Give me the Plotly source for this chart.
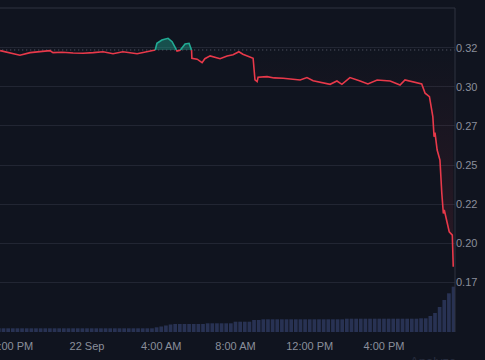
import numpy as np
import pandas as pd
import plotly.graph_objects as go

# ---------------- data ----------------
TIMES = [
    "2023-09-21 19:19", "2023-09-21 19:51", "2023-09-21 20:23", "2023-09-21 20:56",
    "2023-09-21 22:00", "2023-09-21 22:10", "2023-09-21 22:40", "2023-09-21 23:15",
    "2023-09-21 23:47",
    "2023-09-22 00:20", "2023-09-22 00:52", "2023-09-22 01:24", "2023-09-22 01:56",
    "2023-09-22 02:42", "2023-09-22 03:14", "2023-09-22 03:40", "2023-09-22 03:46",
    "2023-09-22 04:02", "2023-09-22 04:22", "2023-09-22 04:35", "2023-09-22 04:51",
    "2023-09-22 05:01", "2023-09-22 05:17", "2023-09-22 05:30", "2023-09-22 05:38",
    "2023-09-22 05:39", "2023-09-22 05:56", "2023-09-22 06:12", "2023-09-22 06:21",
    "2023-09-22 06:38", "2023-09-22 07:10", "2023-09-22 07:33", "2023-09-22 07:52",
    "2023-09-22 08:11", "2023-09-22 08:24", "2023-09-22 08:57", "2023-09-22 09:03",
    "2023-09-22 09:10", "2023-09-22 09:13", "2023-09-22 09:42", "2023-09-22 10:05",
    "2023-09-22 10:34", "2023-09-22 11:29", "2023-09-22 11:51", "2023-09-22 12:11",
    "2023-09-22 13:06", "2023-09-22 13:28", "2023-09-22 13:44", "2023-09-22 14:10",
    "2023-09-22 14:43", "2023-09-22 15:08", "2023-09-22 15:38", "2023-09-22 16:20",
    "2023-09-22 16:52", "2023-09-22 17:08", "2023-09-22 18:02", "2023-09-22 18:13",
    "2023-09-22 18:27", "2023-09-22 18:38", "2023-09-22 18:42", "2023-09-22 18:45",
    "2023-09-22 18:52", "2023-09-22 19:01", "2023-09-22 19:07", "2023-09-22 19:12",
    "2023-09-22 19:15", "2023-09-22 19:23", "2023-09-22 19:31", "2023-09-22 19:41",
    "2023-09-22 19:44",
]
PRICES = [
    0.3233, 0.3216, 0.3203, 0.3220,
    0.3233, 0.3220, 0.3222, 0.3218,
    0.3216,
    0.3220, 0.3226, 0.3213, 0.3226,
    0.3213, 0.3224, 0.3233, 0.3280,
    0.3301, 0.3312, 0.3290, 0.3230,
    0.3235, 0.3276, 0.3280, 0.3236,
    0.3184, 0.3178, 0.3156, 0.3181,
    0.3199, 0.3181, 0.3199, 0.3207,
    0.3226, 0.3210, 0.3184, 0.3045,
    0.3034, 0.3062, 0.3066, 0.3058,
    0.3056, 0.3045, 0.3060, 0.3040,
    0.3017, 0.3038, 0.3017, 0.3060,
    0.3038, 0.3019, 0.3045, 0.3038,
    0.3013, 0.3045, 0.3019, 0.2960,
    0.2938, 0.2810, 0.2681, 0.2707,
    0.2596, 0.2532, 0.2319, 0.2189,
    0.2212, 0.2147, 0.2072, 0.2051,
    0.1848,
]
BASELINE = 0.3237

VOLUME_START = "2023-09-21 19:15"
VOLUME = ([3.7] * 34 + [4.7, 5.5, 6.5, 7.5] + [8.0] * 7 + [8.7] * 6 + [10.3] * 4
          + [12.0] * 2 + [12.7] * 18 + [13.3] * 16 + [13.7] * 2
          + [16.0, 19.0, 25.0, 32.0, 38.7, 45.3])

Y_TICKS = [0.175, 0.200, 0.225, 0.250, 0.275, 0.300, 0.325]
Y_TICK_TEXT = ["0.17", "0.20", "0.22", "0.25", "0.27", "0.30", "0.32"]
X_TICKS = ["2023-09-21 20:00", "2023-09-22 00:00", "2023-09-22 04:00",
           "2023-09-22 08:00", "2023-09-22 12:00", "2023-09-22 16:00"]
X_TICK_TEXT = ["8:00 PM", "22 Sep", "4:00 AM", "8:00 AM", "12:00 PM", "4:00 PM"]

# ---------------- styling ----------------
BG = "#10141f"
GRID = "#222633"
BORDER = "#2f3340"
TXT = "#8a8f9b"
RED = "#e8394a"
GREEN = "#22ab94"
FONT = "Liberation Sans, Arial, sans-serif"

# insert baseline crossing points so the two colours meet exactly
t = pd.to_datetime(TIMES)
p = np.array(PRICES)
xs, ys = [t[0]], [p[0]]
for i in range(1, len(p)):
    d0, d1 = p[i - 1] - BASELINE, p[i] - BASELINE
    if d0 * d1 < 0:
        f = d0 / (d0 - d1)
        xs.append(t[i - 1] + (t[i] - t[i - 1]) * f)
        ys.append(BASELINE)
    xs.append(t[i])
    ys.append(p[i])
ys = np.array(ys)
up = np.maximum(ys, BASELINE)
down = np.minimum(ys, BASELINE)
green_y = [v if v >= BASELINE - 1e-12 else None for v in ys]
red_y = [v if v <= BASELINE + 1e-12 else None for v in ys]
base_y = [BASELINE] * len(xs)

vol_x = pd.date_range(VOLUME_START, periods=len(VOLUME), freq="15min")

fig = go.Figure()

# volume (secondary axis)
fig.add_trace(go.Bar(x=vol_x, y=VOLUME, yaxis="y2", marker=dict(color="#283253", line_width=0),
                     hoverinfo="skip", showlegend=False))

# green fill above baseline
fig.add_trace(go.Scatter(x=xs, y=base_y, mode="lines", line=dict(width=0), hoverinfo="skip",
                         showlegend=False))
fig.add_trace(go.Scatter(x=xs, y=up, mode="lines", line=dict(width=0), fill="tonexty",
                         fillcolor="rgba(34,171,148,0.40)", hoverinfo="skip", showlegend=False))
# red fill below baseline
fig.add_trace(go.Scatter(x=xs, y=base_y, mode="lines", line=dict(width=0), hoverinfo="skip",
                         showlegend=False))
fig.add_trace(go.Scatter(x=xs, y=down, mode="lines", line=dict(width=0), fill="tonexty",
                         fillgradient=dict(type="vertical", start=0.18, stop=BASELINE,
                                           colorscale=[[0, "rgba(232,57,74,0.13)"],
                                                       [1, "rgba(232,57,74,0.0)"]]),
                         hoverinfo="skip", showlegend=False))

# dotted baseline
fig.add_trace(go.Scatter(x=[pd.Timestamp("2023-09-21 19:00"), pd.Timestamp("2023-09-22 20:00")],
                         y=[BASELINE, BASELINE], mode="lines",
                         line=dict(color="#5f6472", width=1, dash="1px,3px"),
                         hoverinfo="skip", showlegend=False))

# price line, coloured by side of baseline
fig.add_trace(go.Scatter(x=xs, y=red_y, mode="lines", line=dict(color=RED, width=1.6),
                         showlegend=False))
fig.add_trace(go.Scatter(x=xs, y=green_y, mode="lines", line=dict(color=GREEN, width=1.6),
                         showlegend=False))

fig.update_layout(
    width=485, height=360,
    margin=dict(l=0, r=30, t=8, b=28, autoexpand=False),
    paper_bgcolor=BG, plot_bgcolor=BG,
    font=dict(family=FONT, size=11, color=TXT),
    bargap=0.2,
    xaxis=dict(type="date", automargin=False,
               range=["2023-09-21 19:18:40", "2023-09-22 19:49:40"],
               tickvals=X_TICKS, ticktext=X_TICK_TEXT,
               showgrid=False, zeroline=False, showline=False, ticks="",
               ticklabeloverflow="allow", ticklabelstandoff=6,
               tickfont=dict(size=11, color=TXT)),
    yaxis=dict(side="right", range=[0.143, 0.3506], automargin=False,
               tickvals=Y_TICKS, ticktext=Y_TICK_TEXT,
               showgrid=True, gridcolor=GRID, gridwidth=1,
               zeroline=False, showline=False, ticks="",
               tickfont=dict(size=11, color=TXT)),
    yaxis2=dict(overlaying="y", range=[0, 324], visible=False),
    shapes=[
        dict(type="line", xref="paper", yref="paper", x0=0, x1=1, y0=1, y1=1,
             line=dict(color=BORDER, width=1)),
        dict(type="line", xref="paper", yref="paper", x0=1, x1=1, y0=0, y1=1,
             line=dict(color=BORDER, width=1)),
    ],
    annotations=[
        dict(text="Analyze", xref="paper", yref="paper", x=0.952, y=-0.062,
             xanchor="center", yanchor="top", showarrow=False,
             font=dict(size=13, color="#262c3d", family=FONT)),
    ],
)

fig.write_html("out.html")
